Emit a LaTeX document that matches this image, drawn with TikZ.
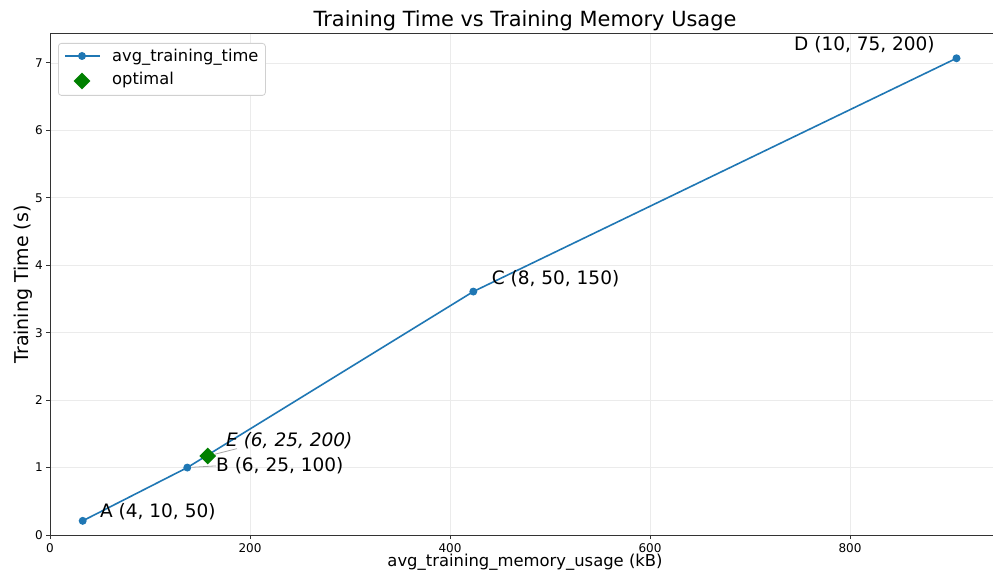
\documentclass[tikz,border=0pt]{standalone}
\usepackage{fontspec}
\setmainfont{DejaVu Sans}
\usetikzlibrary{shapes.geometric}
\definecolor{mplblue}{HTML}{1F77B4}
\definecolor{mplgreen}{HTML}{008000}
\definecolor{gridc}{HTML}{EBEBEB}
\definecolor{legc}{HTML}{D0D0D0}
\definecolor{spinec}{HTML}{333333}
\begin{document}
\begin{tikzpicture}[x=1pt,y=1pt,
  dot/.style={circle,fill=mplblue,inner sep=0,minimum size=8pt},
  optm/.style={diamond,fill=mplgreen,inner sep=0,minimum width=17pt,minimum height=17pt},
  ann/.style={font=\fontsize{18.5}{22}\selectfont,anchor=base west,inner sep=0},
  ticklab/.style={font=\fontsize{12}{14}\selectfont,inner sep=0},
  legtext/.style={font=\fontsize{16.3}{19}\selectfont,anchor=base west,inner sep=0},
  gridline/.style={gridc,line width=0.8pt},
  annline/.style={gray!70,line width=0.8pt},
  spine/.style={spinec,line width=1pt}
]
\useasboundingbox (0,0) rectangle (993,576);
\fill[white] (0,0) rectangle (993,576);
\begin{scope}[shift={(50,41)},x=1pt,y=67.43pt]
  % grid
  \foreach \v in {200,400,600,800} \draw[gridline] (\v,0) -- (\v,7.43);
  \foreach \v in {1,...,7} \draw[gridline] (0,\v) -- (943,\v);
  % spines
  \draw[spine] (0,7.43) -- (0,0) -- (943,0);
  \draw[spine] (0,7.43) -- (943,7.43);
  % ticks
  \foreach \v in {0,200,400,600,800} {
    \draw[spine] (\v,0) -- ++(0pt,-4pt);
    \node[ticklab,anchor=base,yshift=-17pt] at (\v,0) {\v};
  }
  \foreach \v in {0,...,7} {
    \draw[spine] (0,\v) -- ++(-4pt,0pt);
    \node[ticklab,anchor=east,xshift=-7pt] at (0,\v) {\v};
  }
  % data
  \coordinate (A) at (32.7,0.21);
  \coordinate (B) at (137.3,1.00);
  \coordinate (C) at (423.3,3.61);
  \coordinate (D) at (906.5,7.07);
  \draw[mplblue,line width=1.6pt] (A) -- (B) -- (C) -- (D);
\end{scope}
% annotation labels
\node[ann] (Alab) at (100,59) {A (4, 10, 50)};
\node[ann] (Blab) at (216,104.3) {B (6, 25, 100)};
\node[ann,font=\fontsize{18.5}{22}\selectfont\itshape] (Elab) at (226,130) {E (6, 25, 200)};
\node[ann] (Clab) at (491.7,291) {C (8, 50, 150)};
\node[ann] (Dlab) at (794,525.3) {D (10, 75, 200)};
% markers
\node[dot] (Adot) at (A) {};
\node[dot] (Bdot) at (B) {};
\node[dot] (Cdot) at (C) {};
\node[dot] (Ddot) at (D) {};
\draw[annline] (Bdot) -- (Blab.west);
\node[optm] (E) at (207.7,120) {};
\draw[annline] (E) -- ([xshift=11pt]Elab.south west);
% legend
\node[draw=legc,fill=white,rounded corners=3pt,line width=0.8pt,minimum width=207pt,minimum height=52pt,anchor=north west,inner sep=0] (leg) at (58,533) {};
\draw[mplblue,line width=1.6pt] (65,520) -- (100,520);
\node[dot] (legdot) at (82,520) {};
\node[optm] (legE) at (82,495) {};
\node[legtext] (legA) at (112,514.3) {avg\_training\_time};
\node[legtext] (legB) at (112,491) {optimal};
% titles
\node[font=\fontsize{20.9}{24}\selectfont,anchor=base,inner sep=0] (title) at (525,549.3) {Training Time vs Training Memory Usage};
\node[font=\fontsize{16.4}{19}\selectfont,anchor=base,inner sep=0] (xlab) at (525,9.3) {avg\_training\_memory\_usage (kB)};
\node[font=\fontsize{19}{22}\selectfont,anchor=base,inner sep=0,rotate=90] (ylab) at (28.5,291.5) {Training Time (s)};
\end{tikzpicture}
\end{document}
